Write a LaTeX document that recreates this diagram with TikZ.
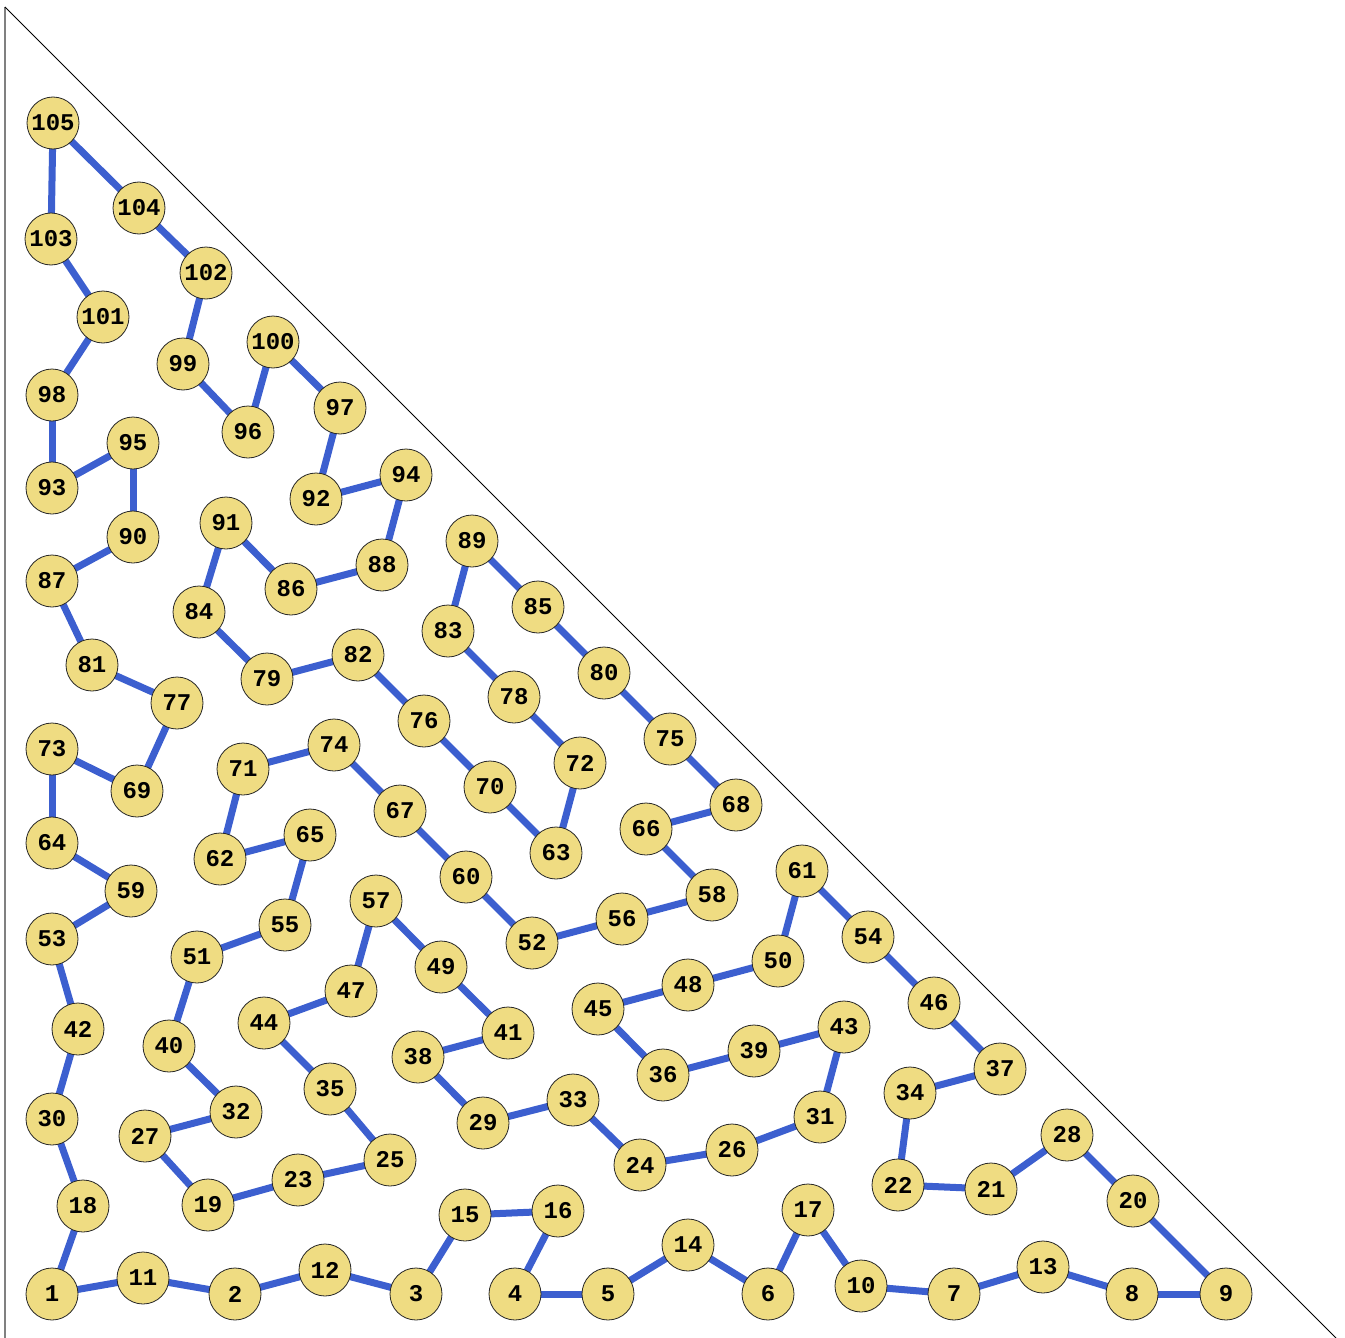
\documentclass[tikz,border=0pt]{standalone}
\usepackage{fontspec}
\newfontfamily\nodefont{Liberation Mono}
\pgfdeclarelayer{bg}
\pgfsetlayers{bg,main}
\definecolor{nodefill}{HTML}{EFDC82}
\definecolor{edgeblue}{HTML}{3C5FCF}
\tikzset{
  vert/.style={circle,draw=black!85,line width=0.8pt,fill=nodefill,minimum size=52pt,inner sep=0pt,font=\nodefont\bfseries\fontsize{24}{24}\selectfont},
  link/.style={edgeblue,line width=7pt}
}
\begin{document}
\begin{tikzpicture}[x=1pt,y=-1pt]
\useasboundingbox (0,0) rectangle (1345,1338);
\draw[gray,line width=2pt] (5,7) -- (5,1338);
\draw[black,line width=0.8pt] (5,7) -- (1336,1338);
\foreach \n/\x/\y in {
1/52/1294, 2/235/1294, 3/416/1294, 4/515/1294, 5/608/1294, 6/768/1294, 7/954/1294, 8/1132/1294, 9/1226/1294,
10/861/1286, 11/143/1278, 12/325/1270, 13/1043/1267, 14/688/1245, 15/465/1215, 16/558/1211, 17/808/1210,
18/83/1206, 19/208/1205, 20/1133/1201, 21/991/1189, 22/898/1185, 23/298/1180, 24/640/1165, 25/390/1160,
26/732/1150, 27/145/1136, 28/1067/1135, 29/483/1123, 30/52/1119, 31/820/1117, 32/236/1112, 33/573/1100,
34/910/1093, 35/330/1089, 36/663/1075, 37/1000/1069, 38/418/1057, 39/754/1051, 40/169/1046, 41/508/1033,
42/78/1029, 43/844/1027, 44/264/1023, 45/598/1009, 46/934/1003, 47/351/991, 48/688/985, 49/441/967,
50/778/961, 51/197/957, 52/532/943, 53/52/939, 54/868/937, 55/285/925, 56/622/919, 57/376/901, 58/712/895,
59/131/891, 60/466/877, 61/802/871, 62/220/859, 63/556/853, 64/52/843, 65/310/835, 66/646/829, 67/400/811,
68/736/805, 69/137/791, 70/490/787, 71/243/769, 72/580/763, 73/52/749, 74/334/745, 75/670/739, 76/424/721,
77/177/703, 78/514/697, 79/267/679, 80/604/673, 81/92/665, 82/358/655, 83/448/631, 84/199/612, 85/538/607,
86/291/589, 87/52/581, 88/382/565, 89/472/541, 90/133/537, 91/226/523, 92/316/499, 93/52/488, 94/406/475,
95/133/443, 96/248/432, 97/340/408, 98/52/395, 99/183/364, 100/273/342, 101/103/317, 102/206/273,
103/51/239, 104/139/208, 105/53/123}
  \node[vert] (n\n) at (\x,\y) {\n};
\begin{pgfonlayer}{bg}
\foreach \a/\b in {1/11, 11/2, 2/12, 12/3, 3/15, 15/16, 16/4, 4/5, 5/14, 14/6, 6/17, 17/10, 10/7, 7/13, 13/8, 8/9,
9/20, 20/28, 28/21, 21/22, 22/34, 34/37, 37/46, 46/54, 54/61, 61/50, 50/48, 48/45, 45/36, 36/39, 39/43,
43/31, 31/26, 26/24, 24/33, 33/29, 29/38, 38/41, 41/49, 49/57, 57/47, 47/44, 44/35, 35/25, 25/23, 23/19,
19/27, 27/32, 32/40, 40/51, 51/55, 55/65, 65/62, 62/71, 71/74, 74/67, 67/60, 60/52, 52/56, 56/58, 58/66,
66/68, 68/75, 75/80, 80/85, 85/89, 89/83, 83/78, 78/72, 72/63, 63/70, 70/76, 76/82, 82/79, 79/84, 84/91,
91/86, 86/88, 88/94, 94/92, 92/97, 97/100, 100/96, 96/99, 99/102, 102/104, 104/105, 105/103, 103/101,
101/98, 98/93, 93/95, 95/90, 90/87, 87/81, 81/77, 77/69, 69/73, 73/64, 64/59, 59/53, 53/42, 42/30, 30/18, 18/1}
  \draw[link] (n\a.center) -- (n\b.center);
\end{pgfonlayer}
\end{tikzpicture}
\end{document}
